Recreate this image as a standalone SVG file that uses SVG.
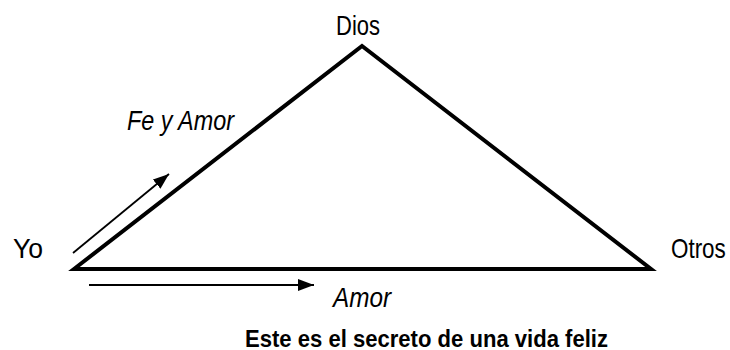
<svg xmlns="http://www.w3.org/2000/svg" width="730" height="350" viewBox="0 0 730 350">
<style>
text{font-family:"Liberation Sans",Arial,sans-serif;font-size:27px;fill:#000}
.i{font-style:italic}
.b{font-weight:bold;font-size:24.5px}
.tri{fill:none;stroke:#000;stroke-width:4;stroke-linejoin:miter}
.arr{fill:none;stroke:#000;stroke-width:1.8}
</style>
<defs>
<marker id="ah" viewBox="0 0 16 12" refX="16" refY="6" markerWidth="16" markerHeight="12" markerUnits="userSpaceOnUse" orient="auto">
<path d="M0,0 L16,6 L0,12 z" fill="#000"/>
</marker>
</defs>
<g id="connectors">
<path class="tri" d="M74,269 L362,46 L651,269 Z"/>
<line class="arr" x1="73" y1="253" x2="169" y2="174" marker-end="url(#ah)"/>
<line class="arr" x1="89" y1="285" x2="314" y2="285" marker-end="url(#ah)"/>
</g>
<g id="dios"><text x="336" y="34.5" textLength="44" lengthAdjust="spacingAndGlyphs">Dios</text></g>
<g id="yo"><text x="13" y="258" textLength="30" lengthAdjust="spacingAndGlyphs">Yo</text></g>
<g id="otros"><text transform="translate(671,257.5) scale(0.83,1)" x="0" y="0">Otros</text></g>
<g id="feyamor"><text class="i" x="127" y="130" textLength="107" lengthAdjust="spacingAndGlyphs">Fe y Amor</text></g>
<g id="amor"><text class="i" x="333" y="307" textLength="58" lengthAdjust="spacingAndGlyphs">Amor</text></g>
<g id="caption"><text class="b" x="245" y="346.5" textLength="363" lengthAdjust="spacingAndGlyphs">Este es el secreto de una vida feliz</text></g>
</svg>
